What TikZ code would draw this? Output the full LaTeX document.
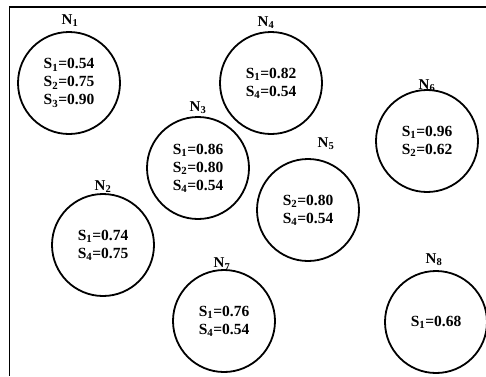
\documentclass[tikz,border=0pt]{standalone}
\usepackage{fontspec}
\setmainfont{Liberation Serif}
\newcommand{\subsc}[1]{\textsubscript{#1}}
\begin{document}
\begin{tikzpicture}[x=1pt,y=-1pt,
  nd/.style={circle,draw,line width=1.8pt,minimum size=102pt,inner sep=0pt,
    font=\fontsize{15.5}{18}\selectfont\bfseries,align=center},
  lbl/.style={font=\fontsize{15}{16}\selectfont\bfseries,inner sep=0pt}]
\useasboundingbox (0,0) rectangle (486,376);
\draw[line width=1.8pt] (486,7) -- (9.5,7) -- (9.5,376);
\node[nd] (n1) at (69,83) {S\subsc{1}=0.54\\S\subsc{2}=0.75\\S\subsc{3}=0.90};
\node[nd] (n2) at (103,245) {S\subsc{1}=0.74\\S\subsc{4}=0.75};
\node[nd] (n3) at (198,168) {S\subsc{1}=0.86\\S\subsc{2}=0.80\\S\subsc{4}=0.54};
\node[nd] (n4) at (271,83) {S\subsc{1}=0.82\\S\subsc{4}=0.54};
\node[nd] (n5) at (308,210) {S\subsc{2}=0.80\\S\subsc{4}=0.54};
\node[nd] (n6) at (427,141) {S\subsc{1}=0.96\\S\subsc{2}=0.62};
\node[nd] (n7) at (224,321) {S\subsc{1}=0.76\\S\subsc{4}=0.54};
\node[nd] (n8) at (436,322) {S\subsc{1}=0.68};
\node[lbl] (l1) at (70,21) {N\subsc{1}};
\node[lbl] (l2) at (103,187) {N\subsc{2}};
\node[lbl] (l3) at (198,108) {N\subsc{3}};
\node[lbl] (l4) at (266,23) {N\subsc{4}};
\node[lbl] (l5) at (326,144) {N\subsc{5}};
\node[lbl] (l6) at (427,86) {N\subsc{6}};
\node[lbl] (l7) at (222,264) {N\subsc{7}};
\node[lbl] (l8) at (434,260) {N\subsc{8}};
\end{tikzpicture}
\end{document}
